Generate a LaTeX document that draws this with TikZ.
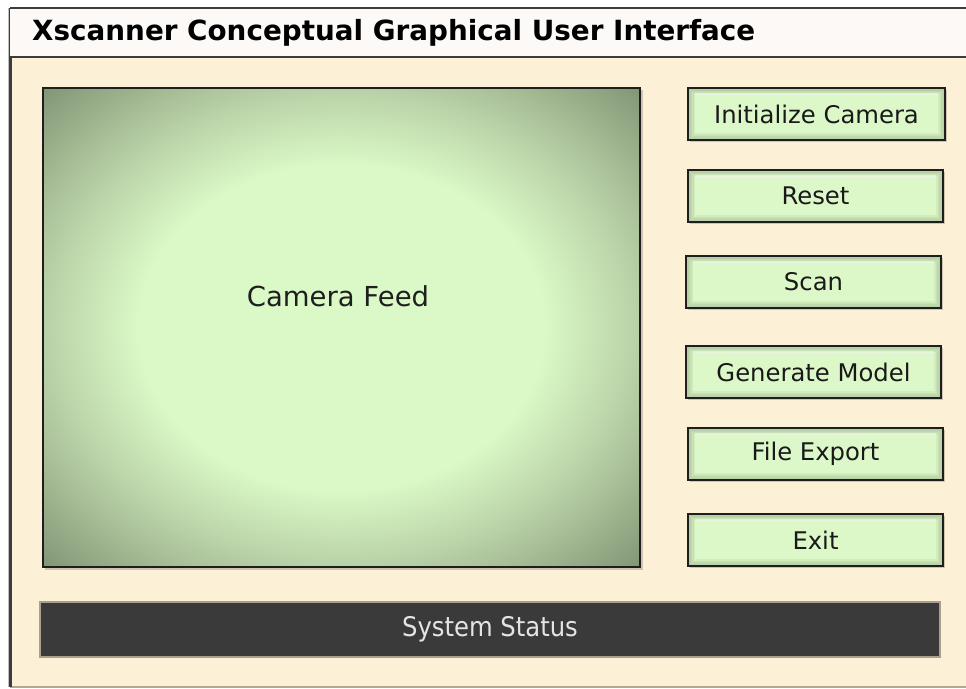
\documentclass[tikz,border=0pt]{standalone}
\usepackage{fontspec}
\setmainfont{DejaVu Sans}
\newfontfamily\condfont{DejaVu Sans Condensed}

\definecolor{winframe}{HTML}{3C3C3C}
\definecolor{titlebg}{HTML}{FDF9F7}
\definecolor{bodybg}{HTML}{FCF0D6}
\definecolor{bottomline}{HTML}{B4A890}
\definecolor{camlight}{HTML}{DAF9C6}
\definecolor{cammid}{HTML}{B8D0A6}
\definecolor{camdark}{HTML}{7E9272}
\definecolor{btnfill}{HTML}{DCF8C8}
\definecolor{btnglow}{HTML}{8FA580}
\definecolor{btnedge}{HTML}{1E1E1E}
\definecolor{statusbg}{HTML}{3A3A3A}
\definecolor{statusedge}{HTML}{A8A08C}
\definecolor{statustext}{HTML}{E4E4E4}

% vignette for the camera feed area
\pgfdeclareradialshading{vignette}{\pgfpoint{0bp}{0bp}}{%
  color(0bp)=(camlight); color(17bp)=(camlight); color(25bp)=(cammid);
  color(36bp)=(camdark); color(50bp)=(camdark)}

\tikzset{
  guibutton/.style={
    draw=btnedge, line width=1.8pt, fill=btnfill,
    minimum height=52pt, inner sep=0pt,
    font=\fontsize{24.3}{28}\selectfont, text=black!90,
    path picture={
      \foreach \lw in {14,11,8,5}
        \draw[btnglow, opacity=0.14, line width=\lw pt]
          (path picture bounding box.south west) rectangle (path picture bounding box.north east);
      \draw[white, opacity=0.5, line width=1.5pt]
        ([xshift=7pt,yshift=-6pt]path picture bounding box.north west) --
        ([xshift=-7pt,yshift=-6pt]path picture bounding box.north east);
    }
  },
  feedbox/.style={draw=btnedge, line width=2pt, shading=vignette,
    minimum width=597pt, minimum height=479pt, inner sep=0pt},
  statusbar/.style={draw=statusedge, line width=1.2pt, fill=statusbg,
    minimum width=900pt, minimum height=55pt, inner sep=0pt,
    text=statustext, font=\condfont\fontsize{27}{31}\selectfont},
  dropshadow/.style={fill=black, opacity=0.18}
}

\begin{document}
\begin{tikzpicture}[x=1pt, y=-1pt]
  \useasboundingbox (0,0) rectangle (966,688);

  % window body and title bar
  \fill[bodybg] (10,57) rectangle (975,687);
  \draw[bottomline, line width=1.5pt] (10,687) -- (975,687);
  \draw[black!25, line width=1pt] (8.5,8) -- (8.5,687);
  \draw[winframe, line width=2.8pt] (10.5,8) -- (10.5,687);
  \fill[titlebg] (10,8) rectangle (975,57);
  \draw[winframe, line width=2.5pt] (10,8) -- (975,8);
  \draw[winframe, line width=2.5pt] (10,57) -- (975,57);
  \node[anchor=west, inner sep=0pt, font=\bfseries\fontsize{27.8}{32}\selectfont]
    (title) at (32,33) {Xscanner Conceptual Graphical User Interface};

  % camera feed
  \fill[dropshadow] (45,90) rectangle (643,570);
  \node[feedbox] (feed) at (341.5,327.5) {};
  \node[font=\fontsize{27.5}{32}\selectfont, text=black!88] (feedlabel) at (338,296) {Camera Feed};

  % control buttons
  \foreach \cx/\cy/\w in {816.5/114/257, 815.5/196/255, 813.5/282/255, 813.5/372/255, 815.5/454/255, 815.5/540/255}
    \fill[dropshadow] (\cx-\w/2+2,\cy-26+2) rectangle (\cx+\w/2+2,\cy+26+2);
  \node[guibutton, minimum width=257pt] (init)   at (816.5,114) {Initialize Camera};
  \node[guibutton, minimum width=255pt] (reset)  at (815.5,196) {Reset};
  \node[guibutton, minimum width=255pt] (scan)   at (813.5,282) {Scan};
  \node[guibutton, minimum width=255pt] (model)  at (813.5,372) {Generate Model};
  \node[guibutton, minimum width=255pt] (export) at (815.5,454) {File Export};
  \node[guibutton, minimum width=255pt] (exit)   at (815.5,540) {Exit};

  % status bar
  \node[statusbar] (status) at (490,629.5) {System Status};
\end{tikzpicture}
\end{document}
